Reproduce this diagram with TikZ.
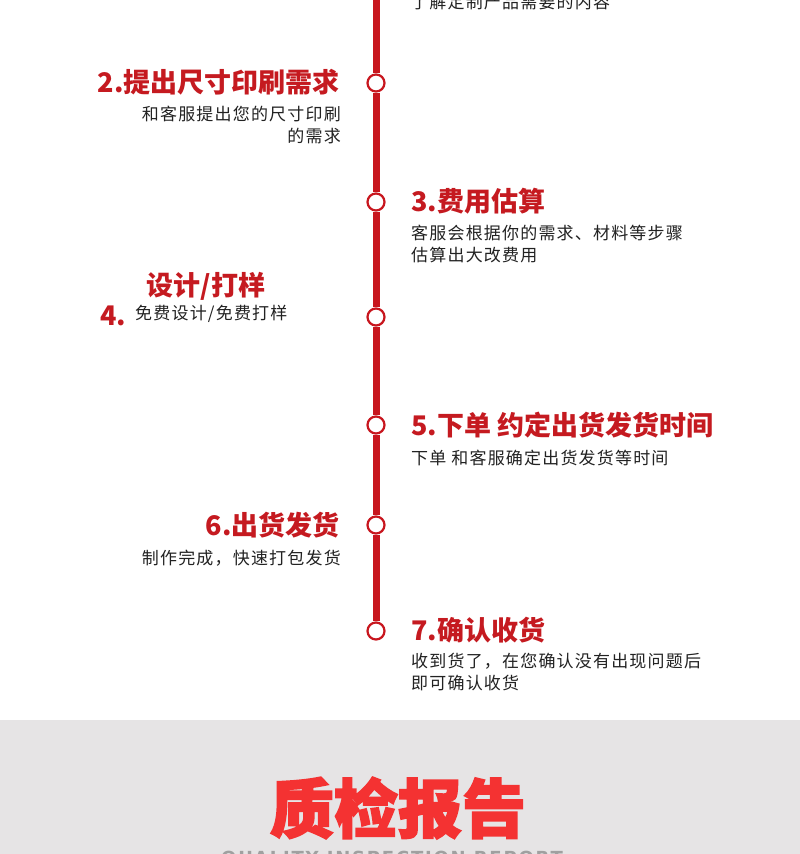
\documentclass[tikz,border=0pt]{standalone}
\usepackage{fontspec}
\setmainfont{Noto Sans CJK SC}
\newfontfamily\bodyfont{Noto Sans CJK SC}[LetterSpace=7]
\newfontfamily\heavyfont{Noto Sans CJK SC}[BoldFeatures={FakeBold=2.5}]
\newfontfamily\engfont{DejaVu Sans}[LetterSpace=10]
\definecolor{lred}{HTML}{C8161E}
\definecolor{tred}{HTML}{C51A20}
\definecolor{bred}{HTML}{F43232}
\definecolor{band}{HTML}{E6E4E5}
\definecolor{txt}{HTML}{222222}
\definecolor{egrey}{HTML}{A0A0A0}
\tikzset{
  dot/.style={circle,draw=lred,line width=2.2pt,fill=white,minimum size=17pt,inner sep=0pt},
  rail/.style={draw=lred,line width=7pt},
  ttl/.style={font=\fontsize{27}{31}\selectfont\bfseries,text=tred,inner sep=0pt},
  bdy/.style={font=\bodyfont\fontsize{17}{21.5}\selectfont,text=txt,inner sep=0pt,align=left},
  bdyr/.style={bdy,align=right},
}
\begin{document}
\begin{tikzpicture}[x=1pt,y=-1pt]
\useasboundingbox (0,0) rectangle (800,854);
\clip (0,0) rectangle (800,854);
\fill[white] (0,0) rectangle (800,720);
\fill[band] (0,720) rectangle (800,854);
% circles
\coordinate (top) at (376,-5);
\node[dot] (c2) at (376,83) {};
\node[dot] (c3) at (376,202) {};
\node[dot] (c4) at (376,317) {};
\node[dot] (c5) at (376,425) {};
\node[dot] (c6) at (376,525) {};
\node[dot] (c7) at (376,631) {};
\draw[rail] (top) -- (c2.north);
\draw[rail] (c2.south) -- (c3.north);
\draw[rail] (c3.south) -- (c4.north);
\draw[rail] (c4.south) -- (c5.north);
\draw[rail] (c5.south) -- (c6.north);
\draw[rail] (c6.south) -- (c7.north);
% step 1 (cut at the top edge, as in the reference)
\node[bdy,anchor=west] (b1) at (411,2) {了解定制产品需要的内容};
% step 2
\node[ttl,anchor=east] (t2) at (340,82) {2.提出尺寸印刷需求};
\node[bdyr,anchor=north east] (b2) at (341,106) {和客服提出您的尺寸印刷\\的需求};
% step 3
\node[ttl,anchor=west] (t3) at (411,201) {3.费用估算};
\node[bdy,anchor=north west] (b3) at (411,225) {客服会根据你的需求、材料等步骤\\估算出大改费用};
% step 4
\node[ttl] (t4) at (206,286) {设计/打样};
\node[ttl,anchor=west] (n4) at (100,316) {4.};
\node[bdy,anchor=west] (b4) at (135,314) {免费设计/免费打样};
% step 5
\node[ttl,anchor=west] (t5) at (411,425) {5.下单 约定出货发货时间};
\node[bdy,anchor=west] (b5) at (411,458) {下单 和客服确定出货发货等时间};
% step 6
\node[ttl,anchor=east] (t6) at (340,525) {6.出货发货};
\node[bdy,anchor=east] (b6) at (341,558) {制作完成，快速打包发货};
% step 7
\node[ttl,anchor=west] (t7) at (411,630) {7.确认收货};
\node[bdy,anchor=north west] (b7) at (411,653) {收到货了，在您确认没有出现问题后\\即可确认收货};
% bottom band
\node[font=\heavyfont\bfseries\fontsize{64}{70}\selectfont,text=bred,inner sep=0pt] (qc) at (398,808) {质检报告};
\node[font=\engfont\bfseries\fontsize{18}{22}\selectfont,text=egrey,inner sep=0pt,anchor=base] (qe) at (392,864) {QUALITY INSPECTION REPORT};
\end{tikzpicture}
\end{document}
